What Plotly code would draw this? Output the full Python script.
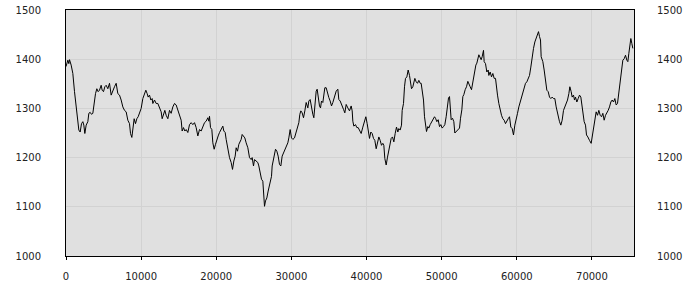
import plotly.graph_objects as go

x_vals = [0, 150, 244, 377, 466, 688, 910, 1132, 1354, 1575, 1708, 1886, 2063, 2241, 2374, 2507, 2685, 2906, 3040, 3217, 3395, 3572, 3750, 3927, 4104, 4282, 4459, 4681, 4814, 4992, 5169, 5347, 5569, 5791, 6012, 6234, 6457, 6678, 6900, 7122, 7255,
          7343, 7565, 7787, 8008, 8230, 8452, 8585, 8763, 8896, 9073, 9251, 9428, 9606, 9783, 10005, 10227, 10449, 10626, 10804, 10937, 11114, 11292, 11469, 11558, 11780, 12002, 12224, 12445, 12667, 12800, 12978, 13155, 13333, 13555, 13777, 13998, 14220, 14442, 14664, 14886, 15108, 15329,
          15462, 15639, 15817, 15994, 16216, 16438, 16660, 16882, 17104, 17326, 17547, 17769, 17991, 18213, 18435, 18657, 18878, 19012, 19100, 19233, 19411, 19544, 19721, 19899, 20076, 20254, 20431, 20653, 20875, 21008, 21186, 21318, 21540, 21762, 21984, 22162, 22339, 22517, 22650, 22827, 23005, 23182,
          23315, 23448, 23625, 23803, 23980, 24202, 24424, 24646, 24779, 24957, 25090, 25312, 25533, 25666, 25844, 26021, 26199, 26288, 26421, 26554, 26731, 26909, 27086, 27219, 27353, 27441, 27574, 27707, 27885, 28062, 28240, 28417, 28595, 28772, 28950, 29127, 29305, 29527, 29660, 29837, 30015, 30192, 30414, 30636, 30813, 30991, 31124, 31257,
          31434, 31611, 31789, 31966, 32188, 32321, 32499, 32676, 32854, 32987, 33164, 33298, 33431, 33564, 33741, 33874, 34007, 34185, 34318, 34451, 34629, 34806, 34984, 35161, 35339, 35516, 35738, 35960, 36182, 36315, 36493, 36714, 36936, 37113, 37291, 37513, 37735, 37956, 38090, 38178, 38311, 38533, 38711, 38888, 39066,
          39287, 39509, 39731, 39908, 40086, 40263, 40396, 40574, 40751, 40929, 41106, 41284, 41461, 41639, 41816, 41993, 42171, 42304, 42437, 42615, 42792, 42970, 43147, 43280, 43458, 43635, 43813, 43990, 44168, 44301, 44478, 44656, 44745, 44922, 45055, 45188, 45366, 45543, 45721, 45854, 45987, 46164, 46298, 46431, 46608, 46786, 46963, 47141,
          47273, 47406, 47583, 47717, 47850, 47983, 48160, 48293, 48471, 48648, 48826, 49048, 49181, 49358, 49536, 49713, 49891, 50068, 50245, 50423, 50600, 50778, 50911, 51044, 51177, 51266, 51444, 51621, 51754, 51932, 52154, 52375, 52509, 52686, 52819, 52952, 53130, 53307, 53485, 53618, 53795, 53973, 54150, 54284, 54417, 54550, 54683, 54816, 54950,
          55259, 55392, 55569, 55658, 55836, 56013, 56191, 56279, 56457, 56634, 56812, 56989, 57167, 57256, 57433, 57610, 57788, 57965, 58143, 58320, 58498, 58675, 58853, 59030, 59208, 59385, 59563, 59740, 59918, 60095, 60273, 60450, 60628, 60805, 60983, 61160, 61338, 61515, 61693, 61870, 62048, 62225, 62403, 62580, 62758, 62891, 63024,
          63156, 63245, 63467, 63644, 63822, 63999, 64177, 64354, 64532, 64709, 64887, 65064, 65242, 65419, 65552, 65685, 65863, 66040, 66218, 66395, 66573, 66750, 66928, 67061, 67238, 67371, 67548, 67682, 67815, 67992, 68170, 68347, 68525, 68658, 68835, 68968, 69146, 69279, 69457, 69590,
          69678, 69900, 70033, 70210, 70388, 70565, 70743, 70920, 71098, 71275, 71453, 71630, 71808, 71985, 72163, 72340, 72518, 72695, 72873, 73050, 73228, 73405, 73583, 73760, 73938, 74115, 74293, 74470, 74648, 74781, 74914, 75047, 75180, 75313, 75446]

y_vals = [1385, 1398, 1398, 1391, 1399, 1388, 1371, 1334, 1300, 1273, 1256, 1252, 1269, 1273, 1266, 1249, 1266, 1273, 1290, 1292, 1288, 1290, 1313, 1330, 1340, 1334, 1337, 1347, 1337, 1334, 1344, 1347, 1340, 1351, 1327, 1337, 1344, 1351, 1330, 1327, 1317,
          1317, 1303, 1296, 1293, 1276, 1269, 1249, 1241, 1256, 1279, 1269, 1279, 1283, 1293, 1300, 1320, 1330, 1337, 1330, 1323, 1327, 1317, 1320, 1310, 1317, 1310, 1310, 1303, 1293, 1279, 1286, 1296, 1286, 1279, 1296, 1290, 1303, 1310, 1307, 1296, 1290, 1276,
          1254, 1261, 1254, 1257, 1251, 1267, 1271, 1267, 1271, 1261, 1244, 1257, 1254, 1261, 1271, 1274, 1281, 1274, 1284, 1261, 1257, 1230, 1217, 1227, 1237, 1244, 1251, 1257, 1264, 1254, 1251, 1237, 1217, 1200, 1190, 1176, 1193, 1203, 1220, 1213, 1227, 1232,
          1237, 1247, 1244, 1240, 1230, 1220, 1200, 1196, 1200, 1183, 1196, 1193, 1190, 1183, 1166, 1156, 1152, 1122, 1101, 1112, 1118, 1132, 1146, 1152, 1162, 1183, 1196, 1203, 1217, 1213, 1203, 1186, 1183, 1203, 1210, 1213, 1220, 1230, 1240, 1257, 1240, 1237, 1240, 1251, 1264, 1271, 1288, 1295,
          1291, 1281, 1295, 1312, 1301, 1315, 1318, 1298, 1288, 1281, 1312, 1335, 1339, 1322, 1305, 1301, 1315, 1312, 1325, 1342, 1342, 1329, 1322, 1315, 1305, 1312, 1322, 1335, 1339, 1318, 1315, 1308, 1298, 1291, 1308, 1301, 1295, 1305, 1295, 1274, 1264, 1267, 1261, 1261, 1256,
          1249, 1262, 1276, 1283, 1269, 1249, 1239, 1252, 1249, 1239, 1235, 1218, 1232, 1242, 1235, 1225, 1229, 1225, 1198, 1185, 1201, 1218, 1232, 1239, 1242, 1232, 1249, 1262, 1252, 1259, 1256, 1266, 1296, 1310, 1344, 1361, 1364, 1378, 1367, 1357, 1340, 1344, 1354, 1361, 1354, 1351, 1357, 1351,
          1351, 1334, 1317, 1283, 1263, 1253, 1263, 1260, 1267, 1273, 1277, 1283, 1280, 1273, 1277, 1263, 1267, 1260, 1263, 1267, 1283, 1304, 1321, 1324, 1297, 1277, 1280, 1273, 1250, 1253, 1256, 1260, 1280, 1297, 1324, 1328, 1338, 1344, 1355, 1348, 1344, 1338, 1355, 1372, 1378, 1388, 1392, 1402, 1409,
          1399, 1405, 1418, 1395, 1391, 1374, 1378, 1367, 1374, 1364, 1371, 1361, 1361, 1344, 1327, 1310, 1296, 1286, 1279, 1276, 1269, 1276, 1279, 1283, 1262, 1259, 1246, 1266, 1276, 1290, 1303, 1313, 1320, 1334, 1344, 1351, 1354, 1361, 1367, 1384, 1408, 1422, 1435, 1442, 1449, 1456, 1446,
          1439, 1405, 1395, 1378, 1354, 1337, 1334, 1323, 1320, 1323, 1320, 1320, 1303, 1290, 1286, 1273, 1266, 1276, 1296, 1303, 1307, 1317, 1330, 1344, 1334, 1323, 1327, 1317, 1323, 1313, 1320, 1327, 1323, 1307, 1293, 1273, 1266, 1246, 1242, 1239,
          1235, 1229, 1242, 1262, 1279, 1293, 1286, 1296, 1286, 1283, 1290, 1276, 1286, 1290, 1296, 1303, 1313, 1317, 1313, 1320, 1307, 1310, 1334, 1357, 1378, 1398, 1401, 1408, 1398, 1395, 1412, 1425, 1442, 1432, 1422]

x_ticks = [0, 10000, 20000, 30000, 40000, 50000, 60000, 70000]
y_ticks = [1000, 1100, 1200, 1300, 1400, 1500]

fig = go.Figure()
fig.add_trace(go.Scatter(x=x_vals, y=y_vals, mode="lines",
                         line=dict(color="black", width=1), hoverinfo="skip"))
fig.add_trace(go.Scatter(x=x_vals, y=y_vals, mode="lines", yaxis="y2",
                         line=dict(color="rgba(0,0,0,0)", width=1), hoverinfo="skip"))

font = dict(family="DejaVu Sans", size=10, color="#222222")
fig.update_layout(
    width=700, height=300,
    margin=dict(l=66, r=66, t=10, b=44, autoexpand=False),
    paper_bgcolor="white", plot_bgcolor="#e0e0e0",
    showlegend=False,
    font=font,
    xaxis=dict(range=[0, 75600], tickvals=x_ticks, ticktext=[str(v) for v in x_ticks],
               showgrid=True, gridcolor="#d2d2d2", gridwidth=1,
               showline=True, linecolor="black", linewidth=1, mirror=True,
               ticks="outside", ticklen=3, tickcolor="black", automargin=False,
               zeroline=False, ticklabelstandoff=8, tickfont=font),
    yaxis=dict(range=[1000, 1500], tickvals=y_ticks, automargin=False,
               showgrid=True, gridcolor="#d2d2d2", gridwidth=1,
               showline=True, linecolor="black", linewidth=1, mirror=True,
               ticks="", zeroline=False, ticklabelstandoff=22, tickfont=font),
    yaxis2=dict(range=[1000, 1500], tickvals=y_ticks, overlaying="y", side="right",
                showgrid=False, showline=False, ticks="", zeroline=False, automargin=False,
                ticklabelstandoff=22, tickfont=font),
)

fig.write_html("out.html")
